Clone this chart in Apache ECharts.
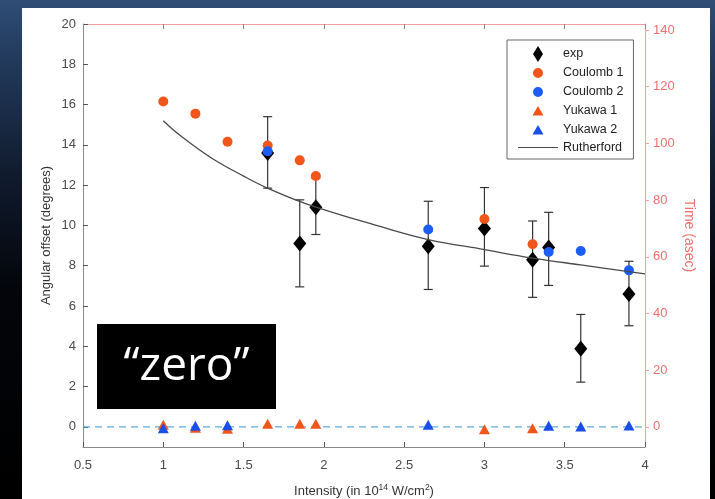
<!DOCTYPE html>
<html>
<head>
<meta charset="utf-8">
<script src="https://cdn.jsdelivr.net/npm/echarts@6/dist/echarts.min.js"></script>
<style>
  html, body { margin: 0; padding: 0; width: 715px; height: 499px; overflow: hidden;
    background: linear-gradient(180deg, #2f4e76 0%, #243d60 10%, #101b2e 35%, #03050a 58%, #000 100%); }
  #panel { position: absolute; left: 22px; top: 8px; width: 688px; height: 491px; background: #fff; }
  #chart { position: absolute; left: 0; top: 0; width: 715px; height: 499px; }
</style>
</head>
<body>
<div id="panel"></div>
<div id="chart"></div>
<script>
// Measured angular offsets with error bars
const expX    = [1.65, 1.85, 1.95, 2.65, 3.0, 3.3, 3.4, 3.6, 3.9];
const expY    = [13.6, 9.1, 10.9, 8.97, 9.85, 8.3, 8.9, 3.88, 6.6];
const expLow  = [11.85, 6.95, 9.55, 6.82, 7.98, 6.43, 7.02, 2.22, 5.02];
const expHigh = [15.4, 11.27, 12.35, 11.2, 11.88, 10.22, 10.65, 5.58, 8.22];

// Model results
const coulomb1X = [1.0, 1.2, 1.4, 1.65, 1.85, 1.95, 3.0, 3.3];
const coulomb1Y = [16.15, 15.55, 14.15, 13.97, 13.23, 12.45, 10.32, 9.07];
const coulomb2X = [1.65, 2.65, 3.4, 3.6, 3.9];
const coulomb2Y = [13.68, 9.8, 8.68, 8.73, 7.77];
const yukawa1X  = [1.0, 1.2, 1.4, 1.65, 1.85, 1.95, 3.0, 3.3];
const yukawa1Y  = [0.1, -0.05, -0.1, 0.15, 0.15, 0.15, -0.12, -0.07];
const yukawa2X  = [1.0, 1.2, 1.4, 2.65, 3.4, 3.6, 3.9];
const yukawa2Y  = [-0.07, 0.05, 0.08, 0.1, 0.05, 0.02, 0.07];

// Rutherford curve
const rutherfordX = [1.0, 1.1, 1.3, 1.5, 1.65, 1.9, 2.35, 2.65, 3.0, 3.3, 3.6, 4.0];
const rutherfordY = [15.2, 14.5, 13.35, 12.45, 11.85, 11.05, 9.95, 9.3, 8.8, 8.38, 8.04, 7.6];

// Zero reference
const zeroX = [0.5, 4.0];
const zeroY = [0, 0];

// Axis ticks
const leftTicks  = [0, 2, 4, 6, 8, 10, 12, 14, 16, 18, 20];
const rightTicks = [0, 20, 40, 60, 80, 100, 120, 140];

const zip = (xs, ys) => xs.map((x, i) => [x, ys[i]]);

const FONT = 'Liberation Sans, Arial, sans-serif';
const ORANGE = '#f2561a';
const BLUE = '#1d5cf5';
const BLUE_TRI = '#1a4ee8';
const PINK_LINE = '#f3a0a0';
const PINK_TEXT = '#f07070';
const GRAY_LINE = '#8a8a8a';
const LABEL = '#4a4a4a';

// Legend glyphs (the extra move-to points pad the glyph box so the marks keep a modest size)
const ICON_DIAMOND  = 'path://M5,0L10,8L5,16L0,8Z';
const ICON_CIRCLE   = 'path://M0,0M16,16M8,3A5,5,0,1,1,7.99,3Z';
const ICON_TRIANGLE = 'path://M0,0M16,16M8,3L13.5,12.5L2.5,12.5Z';
const ICON_LINE     = 'path://M0,0L40,0L40,1.2L0,1.2Z';

const chart = echarts.init(document.getElementById('chart'), null, { renderer: 'canvas' });

const option = {
  animation: false,
  backgroundColor: 'transparent',
  textStyle: { fontFamily: FONT },
  grid: { left: 83, right: 70, top: 24, bottom: 52, containLabel: false, outerBoundsMode: 'none' },
  legend: {
    orient: 'vertical',
    left: 507, top: 40,
    padding: [6, 10, 5, 11],
    itemGap: 3, itemWidth: 40, itemHeight: 16,
    symbolKeepAspect: true,
    borderColor: '#666', borderWidth: 1, backgroundColor: '#fff',
    textStyle: { fontFamily: FONT, fontSize: 12.5, color: '#222' },
    data: [
      { name: 'exp', icon: ICON_DIAMOND },
      { name: 'Coulomb 1', icon: ICON_CIRCLE },
      { name: 'Coulomb 2', icon: ICON_CIRCLE },
      { name: 'Yukawa 1', icon: ICON_TRIANGLE },
      { name: 'Yukawa 2', icon: ICON_TRIANGLE },
      { name: 'Rutherford', icon: ICON_LINE }
    ]
  },
  xAxis: [
    {
      type: 'value', position: 'bottom', min: 0.5, max: 4, interval: 0.5,
      name: 'Intensity (in 10{sup|14} W/cm{sup|2})',
      nameLocation: 'middle', nameGap: 36, nameMoveOverlap: false,
      nameTextStyle: {
        fontFamily: FONT, fontSize: 13, color: '#333',
        rich: { sup: { fontSize: 8.5, color: '#333', fontFamily: FONT, padding: [0, 0, 8, 0] } }
      },
      axisLine: { show: true, onZero: false, lineStyle: { color: GRAY_LINE, width: 1 } },
      axisTick: { show: true, inside: true, length: 5, lineStyle: { color: '#555' } },
      axisLabel: { margin: 12, fontSize: 13, color: LABEL, fontFamily: FONT },
      splitLine: { show: false }
    },
    {
      type: 'value', position: 'top', min: 0.5, max: 4, interval: 0.5,
      axisLine: { show: true, onZero: false, lineStyle: { color: PINK_LINE, width: 1 } },
      axisTick: { show: true, inside: true, length: 5, lineStyle: { color: '#888' } },
      axisLabel: { show: false },
      splitLine: { show: false }
    }
  ],
  yAxis: [
    {
      type: 'value', position: 'left', min: -1, max: 20,
      name: 'Angular offset (degrees)',
      nameLocation: 'middle', nameGap: 30, nameRotate: 90, nameMoveOverlap: false,
      nameTextStyle: { fontFamily: FONT, fontSize: 13, color: '#333' },
      axisLine: { show: true, onZero: false, lineStyle: { color: GRAY_LINE, width: 1 } },
      axisTick: { show: true, inside: true, length: 5, customValues: leftTicks, lineStyle: { color: '#555' } },
      axisLabel: { margin: 7, fontSize: 13, color: LABEL, fontFamily: FONT, customValues: leftTicks },
      splitLine: { show: false }
    },
    {
      type: 'value', position: 'right', min: -7.1, max: 142.1,
      name: 'Time (asec)',
      nameLocation: 'middle', nameGap: 37, nameRotate: -90, nameMoveOverlap: false,
      nameTextStyle: { fontFamily: FONT, fontSize: 14, color: PINK_TEXT },
      axisLine: { show: true, onZero: false, lineStyle: { color: PINK_LINE, width: 1 } },
      axisTick: { show: true, inside: false, length: 4, customValues: rightTicks, lineStyle: { color: PINK_LINE } },
      axisLabel: { margin: 8, fontSize: 13, color: PINK_TEXT, fontFamily: FONT, customValues: rightTicks },
      splitLine: { show: false }
    }
  ],
  series: [
    {
      name: 'zero',
      type: 'line',
      data: zip(zeroX, zeroY),
      symbol: 'none',
      lineStyle: { color: '#5fa9dd', width: 1.3, type: [7, 5] },
      z: 1, silent: true
    },
    {
      name: 'expErr',
      type: 'custom',
      data: expX.map((x, i) => [x, expLow[i], expHigh[i]]),
      renderItem: function (params, api) {
        const x = api.value(0);
        const lo = api.coord([x, api.value(1)]);
        const hi = api.coord([x, api.value(2)]);
        const cap = 4.5;
        const style = { stroke: '#333', lineWidth: 1.2, fill: null };
        return {
          type: 'group',
          children: [
            { type: 'line', shape: { x1: lo[0], y1: lo[1], x2: hi[0], y2: hi[1] }, style: style },
            { type: 'line', shape: { x1: lo[0] - cap, y1: lo[1], x2: lo[0] + cap, y2: lo[1] }, style: style },
            { type: 'line', shape: { x1: hi[0] - cap, y1: hi[1], x2: hi[0] + cap, y2: hi[1] }, style: style }
          ]
        };
      },
      z: 2
    },
    {
      name: 'exp', type: 'scatter', data: zip(expX, expY),
      symbol: 'diamond', symbolSize: [13, 16],
      itemStyle: { color: '#000', opacity: 1 }, z: 3
    },
    {
      name: 'Coulomb 1', type: 'scatter', data: zip(coulomb1X, coulomb1Y),
      symbol: 'circle', symbolSize: 10,
      itemStyle: { color: ORANGE, opacity: 1 }, z: 4
    },
    {
      name: 'Coulomb 2', type: 'scatter', data: zip(coulomb2X, coulomb2Y),
      symbol: 'circle', symbolSize: 10,
      itemStyle: { color: BLUE, opacity: 1 }, z: 5
    },
    {
      name: 'Yukawa 1', type: 'scatter', data: zip(yukawa1X, yukawa1Y),
      symbol: 'triangle', symbolSize: [11, 10],
      itemStyle: { color: ORANGE, opacity: 1 }, z: 6
    },
    {
      name: 'Yukawa 2', type: 'scatter', data: zip(yukawa2X, yukawa2Y),
      symbol: 'triangle', symbolSize: [11, 10],
      itemStyle: { color: BLUE_TRI, opacity: 1 }, z: 7
    },
    {
      name: 'Rutherford', type: 'line', data: zip(rutherfordX, rutherfordY),
      smooth: 0.4, symbol: 'none',
      lineStyle: { color: '#4a4a4a', width: 1.3 },
      itemStyle: { color: '#4a4a4a' }, z: 8
    }
  ],
  graphic: [
    {
      type: 'group', left: 97, top: 324, z: 100,
      children: [
        { type: 'rect', shape: { x: 0, y: 0, width: 179, height: 85 }, style: { fill: '#000' } },
        {
          type: 'text', x: 89.5, y: 42.5,
          style: {
            text: '\u201Czero\u201D', fill: '#fff',
            font: '46px "Open Sans", "Liberation Sans", sans-serif',
            textAlign: 'center', textVerticalAlign: 'middle'
          }
        }
      ]
    }
  ]
};

chart.setOption(option);
</script>
</body>
</html>
